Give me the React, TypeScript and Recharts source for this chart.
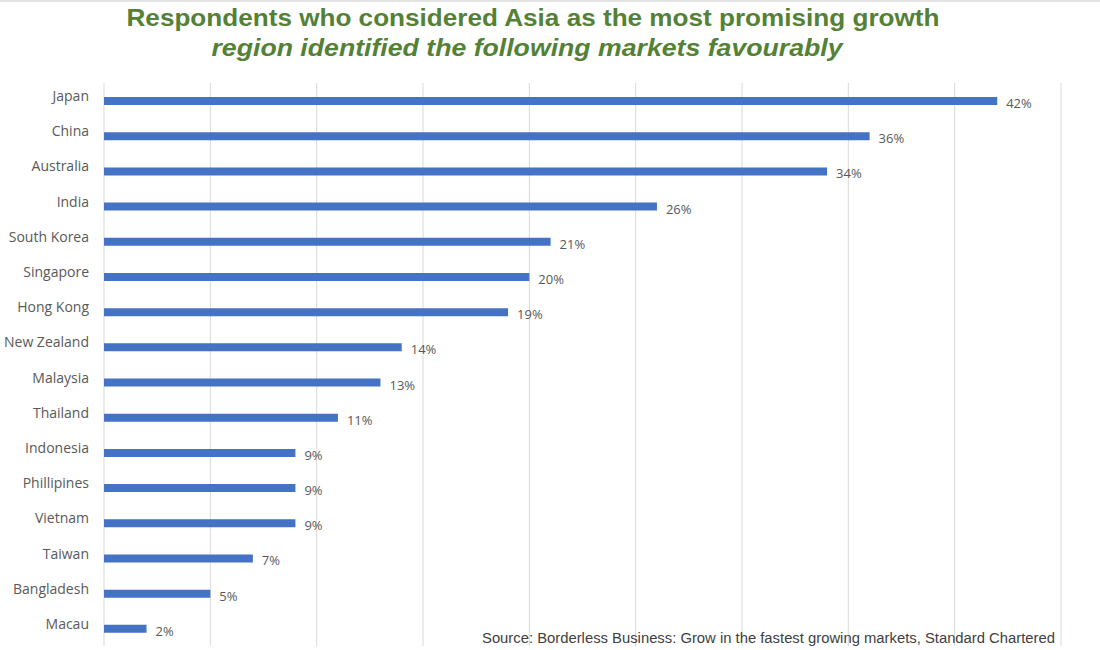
import { BarChart, Bar, XAxis, YAxis, CartesianGrid, LabelList } from "recharts";

const markets = [
  "Japan",
  "China",
  "Australia",
  "India",
  "South Korea",
  "Singapore",
  "Hong Kong",
  "New Zealand",
  "Malaysia",
  "Thailand",
  "Indonesia",
  "Phillipines",
  "Vietnam",
  "Taiwan",
  "Bangladesh",
  "Macau",
];

const shares = [42, 36, 34, 26, 21, 20, 19, 14, 13, 11, 9, 9, 9, 7, 5, 2];

const xTicks = [0, 5, 10, 15, 20, 25, 30, 35, 40, 45];

const data = markets.map((name, i) => ({ name, value: shares[i] }));

const GREEN = "#538135";
const GREY = "#595959";

function CategoryTick(props: any) {
  const { x, y, payload } = props;
  return (
    <text
      x={x}
      y={y}
      dx={-7}
      dy={-5}
      textAnchor="end"
      dominantBaseline="central"
      fontFamily="'Open Sans', sans-serif"
      fontSize={14}
      fill={GREY}
    >
      {payload.value}
    </text>
  );
}

function ValueLabel(props: any) {
  const { x, y, width, height, value } = props;
  return (
    <text
      x={x + width + 9}
      y={y + height / 2 + 2}
      dominantBaseline="central"
      fontFamily="'Open Sans', sans-serif"
      fontSize={13}
      fill={GREY}
    >
      {value}%
    </text>
  );
}

export default function App() {
  return (
    <div
      style={{
        position: "absolute",
        left: 0,
        top: 0,
        width: 1100,
        height: 650,
        background: "#fff",
        overflow: "hidden",
      }}
    >
      <div style={{ position: "absolute", left: 0, top: 0, width: 1100, height: 2, background: "#e2e2e2" }} />
      <BarChart
        width={1100}
        height={650}
        data={data}
        layout="vertical"
        margin={{ top: 83, right: 39, bottom: 4, left: 4 }}
      >
        <CartesianGrid horizontal={false} stroke="#d9d9d9" />
        <XAxis
          type="number"
          domain={[0, 45]}
          ticks={xTicks}
          axisLine={false}
          tickLine={false}
          tick={() => <g />}
          height={0}
        />
        <YAxis
          type="category"
          dataKey="name"
          width={100}
          axisLine={false}
          tickLine={false}
          tick={<CategoryTick />}
        />
        <Bar dataKey="value" fill="#4472C4" barSize={8} isAnimationActive={false}>
          <LabelList dataKey="value" content={<ValueLabel />} />
        </Bar>
        <text
          x={533}
          y={26}
          textAnchor="middle"
          fontFamily="'Liberation Sans', Arial, sans-serif"
          fontWeight="bold"
          fontSize={24}
          fill={GREEN}
          textLength={813}
          lengthAdjust="spacingAndGlyphs"
        >
          Respondents who considered Asia as the most promising growth
        </text>
        <text
          x={527}
          y={56}
          textAnchor="middle"
          fontFamily="'Liberation Sans', Arial, sans-serif"
          fontWeight="bold"
          fontStyle="italic"
          fontSize={24}
          fill={GREEN}
          textLength={631}
          lengthAdjust="spacingAndGlyphs"
        >
          region identified the following markets favourably
        </text>
        <text
          x={482}
          y={643}
          fontFamily="'Liberation Sans', Arial, sans-serif"
          fontSize={14}
          fill="#404040"
          textLength={573}
          lengthAdjust="spacingAndGlyphs"
        >
          Source: Borderless Business: Grow in the fastest growing markets, Standard Chartered
        </text>
      </BarChart>
    </div>
  );
}
